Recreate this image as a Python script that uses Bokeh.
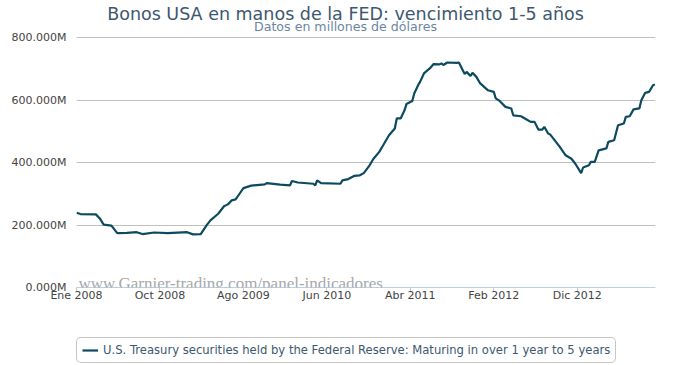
from bokeh.plotting import figure
from bokeh.models import (Range1d, FixedTicker, Label, Legend, LegendItem,
                          ColumnDataSource)
from bokeh.layouts import column
from bokeh.embed import file_html
from bokeh.resources import INLINE

# ---- data (weekly points, week 0 = 2 Jan 2008), millions of USD ----
semanas = [0, 2, 10, 12, 14, 18, 21, 26, 31, 34, 40, 47, 57, 60, 64, 67, 69, 73,
           76, 78, 80, 82, 84, 86, 90, 97, 98, 105, 110, 111, 114, 122, 123, 124,
           126, 136, 137, 140, 143, 146, 148, 151, 153, 156, 158, 161, 164, 165,
           167, 169, 170, 173, 174, 176, 177, 179, 182, 184, 187, 188, 189, 191,
           196, 197, 200, 201, 203, 204, 206, 208, 212, 215, 216, 218, 221, 224,
           225, 229, 231, 234, 236, 238, 240, 241, 243, 244, 247, 249, 252, 255,
           257, 260, 261, 264, 265, 267, 269, 273, 274, 277, 279, 282, 283, 285,
           287, 290, 291, 293, 295, 297, 298]
valores = [239, 235, 234, 221, 201, 198, 174, 175, 177, 171, 176, 174, 177, 170,
           171, 199, 215, 236, 260, 266, 279, 282, 300, 318, 326, 330, 334, 329,
           327, 341, 336, 332, 327, 343, 334, 332, 343, 347, 357, 359, 366, 391,
           412, 434, 455, 487, 509, 541, 541, 567, 587, 597, 621, 647, 658, 685,
           701, 715, 714, 717, 712, 720, 719, 720, 683, 690, 677, 687, 674, 653,
           631, 626, 605, 597, 578, 573, 551, 548, 541, 530, 530, 505, 505, 514,
           493, 490, 466, 450, 423, 412, 396, 366, 384, 391, 402, 402, 439, 445,
           466, 471, 519, 525, 546, 548, 570, 573, 599, 623, 626, 647, 650]

x_ticks = [0, 43, 86, 129, 172, 215, 258]
x_labels = ["Ene 2008", "Oct 2008", "Ago 2009", "Jun 2010", "Abr 2011",
            "Feb 2012", "Dic 2012"]
y_ticks = [0, 200, 400, 600, 800]
y_labels = ["0.000M", "200.000M", "400.000M", "600.000M", "800.000M"]

titulo = "Bonos USA en manos de la FED: vencimiento 1-5 años"
subtitulo = "Datos en millones de dólares"
serie = ("U.S. Treasury securities held by the Federal Reserve: "
         "Maturing in over 1 year to 5 years")
marca = "www.Garnier-trading.com/panel-indicadores"

FONT = "DejaVu Sans"
LINE_COLOR = "#0B4B5D"

# main chart: frame spans from the top of the page down to the x axis;
# the space above 800 holds the title texts.
p = figure(width=682, height=335, output_backend="svg", toolbar_location=None,
           title=None,
           x_range=Range1d(0, 298.3), y_range=Range1d(0, 912),
           min_border_left=76, min_border_right=27, min_border_top=2,
           min_border_bottom=48)
p.outline_line_color = None
p.background_fill_color = "white"
p.border_fill_color = "white"

src = ColumnDataSource(dict(x=semanas, y=valores))
r = p.line("x", "y", source=src, line_color=LINE_COLOR, line_width=2.2)

xa = p.xaxis[0]
xa.ticker = FixedTicker(ticks=x_ticks)
xa.major_label_overrides = {t: l for t, l in zip(x_ticks, x_labels)}
xa.axis_line_color = "#C0D0E0"
xa.major_tick_line_color = "#C0D0E0"
xa.major_tick_out = 5
xa.major_tick_in = 0
xa.minor_tick_line_color = None
xa.major_label_standoff = -4
xa.major_label_text_font = FONT
xa.major_label_text_font_size = "11px"
xa.major_label_text_color = "#444444"

ya = p.yaxis[0]
ya.ticker = FixedTicker(ticks=y_ticks)
ya.major_label_overrides = {t: l for t, l in zip(y_ticks, y_labels)}
ya.axis_line_color = None
ya.major_tick_line_color = None
ya.minor_tick_line_color = None
ya.major_tick_out = 0
ya.major_tick_in = 0
ya.major_label_standoff = 10
ya.major_label_text_font = FONT
ya.major_label_text_font_size = "11px"
ya.major_label_text_color = "#444444"

p.xgrid.grid_line_color = None
p.ygrid.grid_line_color = "#C0C0C0"
p.ygrid.grid_line_width = 1
p.ygrid.ticker = FixedTicker(ticks=y_ticks)

# title and subtitle (screen units from the frame's bottom-left corner)
p.add_layout(Label(x=269, y=274, x_units="screen", y_units="screen",
                   text=titulo, text_align="center", text_baseline="alphabetic",
                   text_font=FONT, text_font_size="17.5px", text_color="#3E576F"))
p.add_layout(Label(x=269, y=261, x_units="screen", y_units="screen",
                   text=subtitulo, text_align="center", text_baseline="alphabetic",
                   text_font=FONT, text_font_size="12.6px", text_color="#6D869F"))

# watermark
p.add_layout(Label(x=2, y=4, x_units="screen", y_units="screen",
                   text=marca, text_align="left", text_baseline="alphabetic",
                   text_font="Liberation Serif", text_font_size="17px",
                   text_color="#A8A8A8"))

# legend strip below the chart (its frame is aligned with the chart's frame)
lf = figure(width=682, height=30, output_backend="svg", toolbar_location=None,
            title=None, x_axis_type=None, y_axis_type=None,
            x_range=Range1d(0, 1), y_range=Range1d(0, 1), min_border=0)
lf.outline_line_color = None
lf.xgrid.grid_line_color = None
lf.ygrid.grid_line_color = None
proxy = lf.line(x=[float("nan")], y=[float("nan")], line_color=LINE_COLOR,
                line_width=2.2)
leg = Legend(items=[LegendItem(label=serie, renderers=[proxy])],
             location=(0, 2), orientation="horizontal",
             border_line_color="#909090", border_line_width=1,
             background_fill_color="white", background_fill_alpha=1,
             label_text_font=FONT, label_text_font_size="11.6px",
             label_text_color="#3E576F", glyph_width=16, glyph_height=14,
             padding=5, label_standoff=5, margin=0, spacing=0)
if "border_radius" in Legend.properties():
    leg.border_radius = 5
lf.add_layout(leg, "center")

layout = column(p, lf, spacing=0)
open("out.html", "w").write(file_html(layout, INLINE))
